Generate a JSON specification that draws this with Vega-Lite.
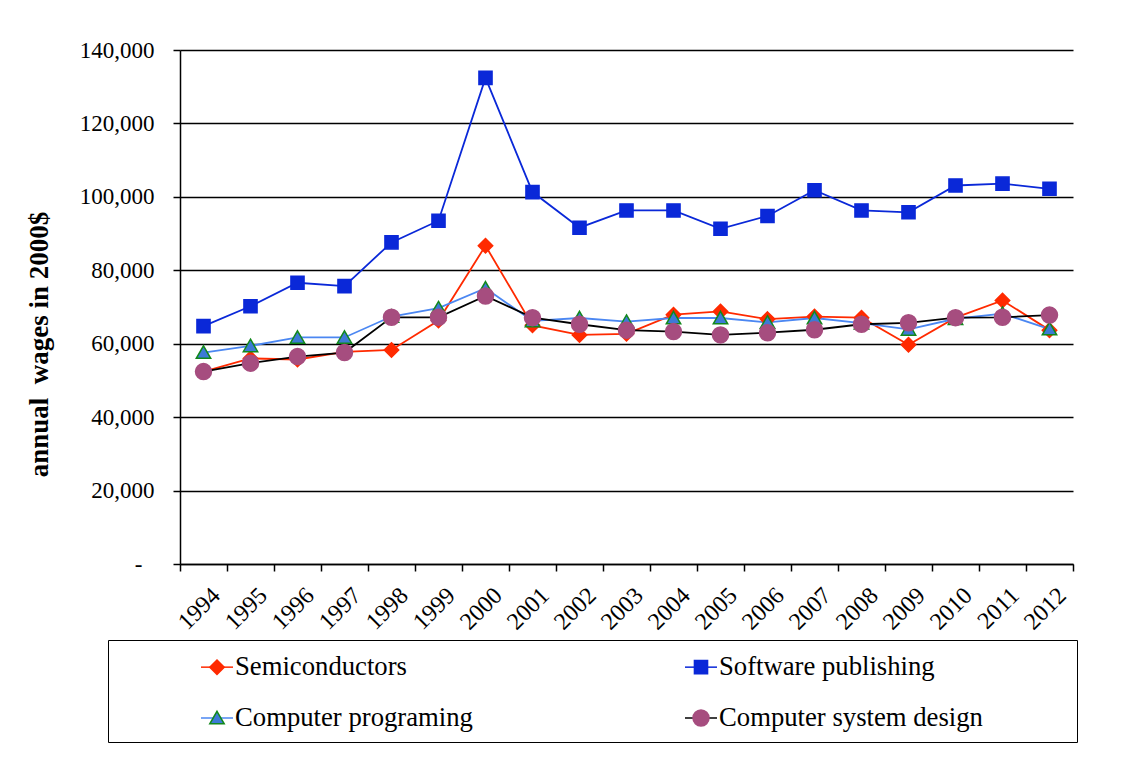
{
  "$schema": "https://vega.github.io/schema/vega-lite/v6.json",
  "width": 893,
  "height": 514,
  "autosize": {"type": "none"},
  "padding": {"left": 180, "top": 50, "right": 62, "bottom": 205},
  "background": "white",
  "config": {"view": {"stroke": null}, "font": "Liberation Serif"},
  "data": {
    "values": [
      {"year": "1994", "series": "Semiconductors", "wage": 52400},
      {"year": "1995", "series": "Semiconductors", "wage": 56000},
      {"year": "1996", "series": "Semiconductors", "wage": 55700},
      {"year": "1997", "series": "Semiconductors", "wage": 57800},
      {"year": "1998", "series": "Semiconductors", "wage": 58300},
      {"year": "1999", "series": "Semiconductors", "wage": 66300},
      {"year": "2000", "series": "Semiconductors", "wage": 86700},
      {"year": "2001", "series": "Semiconductors", "wage": 65000},
      {"year": "2002", "series": "Semiconductors", "wage": 62400},
      {"year": "2003", "series": "Semiconductors", "wage": 62700},
      {"year": "2004", "series": "Semiconductors", "wage": 67900},
      {"year": "2005", "series": "Semiconductors", "wage": 68800},
      {"year": "2006", "series": "Semiconductors", "wage": 66700},
      {"year": "2007", "series": "Semiconductors", "wage": 67400},
      {"year": "2008", "series": "Semiconductors", "wage": 67100},
      {"year": "2009", "series": "Semiconductors", "wage": 59700},
      {"year": "2010", "series": "Semiconductors", "wage": 67100},
      {"year": "2011", "series": "Semiconductors", "wage": 71800},
      {"year": "2012", "series": "Semiconductors", "wage": 63700},
      {"year": "1994", "series": "Software publishing", "wage": 64800},
      {"year": "1995", "series": "Software publishing", "wage": 70200},
      {"year": "1996", "series": "Software publishing", "wage": 76600},
      {"year": "1997", "series": "Software publishing", "wage": 75700},
      {"year": "1998", "series": "Software publishing", "wage": 87600},
      {"year": "1999", "series": "Software publishing", "wage": 93500},
      {"year": "2000", "series": "Software publishing", "wage": 132400},
      {"year": "2001", "series": "Software publishing", "wage": 101300},
      {"year": "2002", "series": "Software publishing", "wage": 91600},
      {"year": "2003", "series": "Software publishing", "wage": 96300},
      {"year": "2004", "series": "Software publishing", "wage": 96300},
      {"year": "2005", "series": "Software publishing", "wage": 91300},
      {"year": "2006", "series": "Software publishing", "wage": 94800},
      {"year": "2007", "series": "Software publishing", "wage": 101800},
      {"year": "2008", "series": "Software publishing", "wage": 96300},
      {"year": "2009", "series": "Software publishing", "wage": 95800},
      {"year": "2010", "series": "Software publishing", "wage": 103100},
      {"year": "2011", "series": "Software publishing", "wage": 103600},
      {"year": "2012", "series": "Software publishing", "wage": 102200},
      {"year": "1994", "series": "Computer programing", "wage": 57600},
      {"year": "1995", "series": "Computer programing", "wage": 59400},
      {"year": "1996", "series": "Computer programing", "wage": 61700},
      {"year": "1997", "series": "Computer programing", "wage": 61700},
      {"year": "1998", "series": "Computer programing", "wage": 67400},
      {"year": "1999", "series": "Computer programing", "wage": 69700},
      {"year": "2000", "series": "Computer programing", "wage": 75100},
      {"year": "2001", "series": "Computer programing", "wage": 66200},
      {"year": "2002", "series": "Computer programing", "wage": 67000},
      {"year": "2003", "series": "Computer programing", "wage": 66000},
      {"year": "2004", "series": "Computer programing", "wage": 67000},
      {"year": "2005", "series": "Computer programing", "wage": 67000},
      {"year": "2006", "series": "Computer programing", "wage": 65800},
      {"year": "2007", "series": "Computer programing", "wage": 67000},
      {"year": "2008", "series": "Computer programing", "wage": 65600},
      {"year": "2009", "series": "Computer programing", "wage": 63900},
      {"year": "2010", "series": "Computer programing", "wage": 66800},
      {"year": "2011", "series": "Computer programing", "wage": 68200},
      {"year": "2012", "series": "Computer programing", "wage": 64000},
      {"year": "1994", "series": "Computer system design", "wage": 52400},
      {"year": "1995", "series": "Computer system design", "wage": 54700},
      {"year": "1996", "series": "Computer system design", "wage": 56500},
      {"year": "1997", "series": "Computer system design", "wage": 57600},
      {"year": "1998", "series": "Computer system design", "wage": 67200},
      {"year": "1999", "series": "Computer system design", "wage": 67200},
      {"year": "2000", "series": "Computer system design", "wage": 73000},
      {"year": "2001", "series": "Computer system design", "wage": 67100},
      {"year": "2002", "series": "Computer system design", "wage": 65300},
      {"year": "2003", "series": "Computer system design", "wage": 63700},
      {"year": "2004", "series": "Computer system design", "wage": 63300},
      {"year": "2005", "series": "Computer system design", "wage": 62400},
      {"year": "2006", "series": "Computer system design", "wage": 63000},
      {"year": "2007", "series": "Computer system design", "wage": 63800},
      {"year": "2008", "series": "Computer system design", "wage": 65300},
      {"year": "2009", "series": "Computer system design", "wage": 65700},
      {"year": "2010", "series": "Computer system design", "wage": 67100},
      {"year": "2011", "series": "Computer system design", "wage": 67200},
      {"year": "2012", "series": "Computer system design", "wage": 67800}
    ]
  },
  "encoding": {
    "x": {
      "field": "year",
      "type": "ordinal",
      "scale": {"type": "band", "paddingInner": 0, "paddingOuter": 0},
      "axis": {
        "title": null,
        "labelAngle": -45,
        "labelFont": "Liberation Serif",
        "labelFontSize": 24,
        "labelColor": "black",
        "labelPadding": 12,
        "labelOffset": 4,
        "tickBand": "extent",
        "tickColor": "black",
        "tickSize": 7,
        "tickWidth": 1.5,
        "domainColor": "black",
        "domainWidth": 1.5,
        "grid": false
      }
    },
    "y": {
      "field": "wage",
      "type": "quantitative",
      "scale": {"domain": [0, 140000], "nice": false},
      "axis": {
        "title": "annual\u00a0 wages in 2000$",
        "titleFont": "Liberation Serif",
        "titleFontSize": 27,
        "titleFontWeight": "bold",
        "titleColor": "black",
        "titleX": -133,
        "titleY": 294,
        "titleBaseline": "alphabetic",
        "titleAngle": 270,
        "values": [0, 20000, 40000, 60000, 80000, 100000, 120000, 140000],
        "labelExpr": "datum.value === 0 ? '-' : format(datum.value, ',')",
        "labelFont": "Liberation Serif",
        "labelFontSize": 23,
        "labelColor": "black",
        "labelPadding": {"condition": {"test": "datum.value === 0", "value": 31}, "value": 19},
        "tickSize": 7,
        "tickColor": "black",
        "tickWidth": 1.5,
        "domainColor": "black",
        "domainWidth": 1.5,
        "grid": true,
        "gridColor": "black",
        "gridWidth": 1.5,
        "gridOpacity": 1
      }
    }
  },
  "layer": [
    {
      "mark": {"type": "line", "strokeWidth": 1.8},
      "encoding": {
        "color": {
          "field": "series",
          "type": "nominal",
          "scale": {
            "domain": ["Semiconductors", "Software publishing", "Computer programing", "Computer system design"],
            "range": ["#ff2a00", "#0a28d8", "#4b87f2", "#000000"]
          },
          "legend": {
            "orient": "none", "legendX": -72, "legendY": 590, "columns": 2, "direction": "horizontal",
            "columnPadding": 129, "rowPadding": 20, "padding": 10,
            "symbolSize": 1024, "symbolOffset": 82, "labelOffset": 1,
            "symbolType": "stroke", "symbolStrokeWidth": 1.5,
            "labelFont": "Liberation Serif", "labelFontSize": 26.7, "labelLimit": 500,
            "labelOpacity": 0,
            "title": " ", "titleOrient": "right", "titlePadding": 84, "titleFontSize": 1,
            "zindex": 1
          }
        }
      }
    },
    {
      "mark": {"type": "point", "filled": true, "size": 1024, "strokeWidth": 1.5, "opacity": 1},
      "encoding": {
        "fill": {
          "field": "series",
          "type": "nominal",
          "scale": {
            "domain": ["Semiconductors", "Software publishing", "Computer programing", "Computer system design"],
            "range": ["#ff2a00", "#0a28d8", "#3d7ad6", "#a64d7f"]
          },
          "legend": {
            "orient": "none", "legendX": -72, "legendY": 590, "columns": 2, "direction": "horizontal",
            "columnPadding": 129, "rowPadding": 20, "padding": 10,
            "symbolSize": 1024, "symbolOffset": 82, "labelOffset": 1,
            "symbolStrokeWidth": 1.5,
            "labelFont": "Liberation Serif", "labelFontSize": 26.7, "labelLimit": 500,
            "labelColor": "black",
            "strokeColor": "black",
            "encode": {"legend": {"update": {"strokeWidth": {"value": 2}}}},
            "title": " ", "titleOrient": "right", "titlePadding": 84, "titleFontSize": 1,
            "zindex": 2
          }
        },
        "stroke": {
          "field": "series",
          "type": "nominal",
          "scale": {
            "domain": ["Semiconductors", "Software publishing", "Computer programing", "Computer system design"],
            "range": ["#ff2a00", "#0a28d8", "#12881c", "#a64d7f"]
          }
        },
        "shape": {
          "field": "series",
          "type": "nominal",
          "scale": {
            "domain": ["Semiconductors", "Software publishing", "Computer programing", "Computer system design"],
            "range": [
              "M0,-0.45L0.45,0L0,0.45L-0.45,0Z",
              "M-0.41,-0.41H0.41V0.41H-0.41Z",
              "M0,-0.42L0.45,0.36H-0.45Z",
              "M0.5,0A0.5,0.5,0,1,1,-0.5,0A0.5,0.5,0,1,1,0.5,0Z"
            ]
          }
        }
      }
    }
  ],
  "resolve": {"legend": {"color": "independent"}}
}
